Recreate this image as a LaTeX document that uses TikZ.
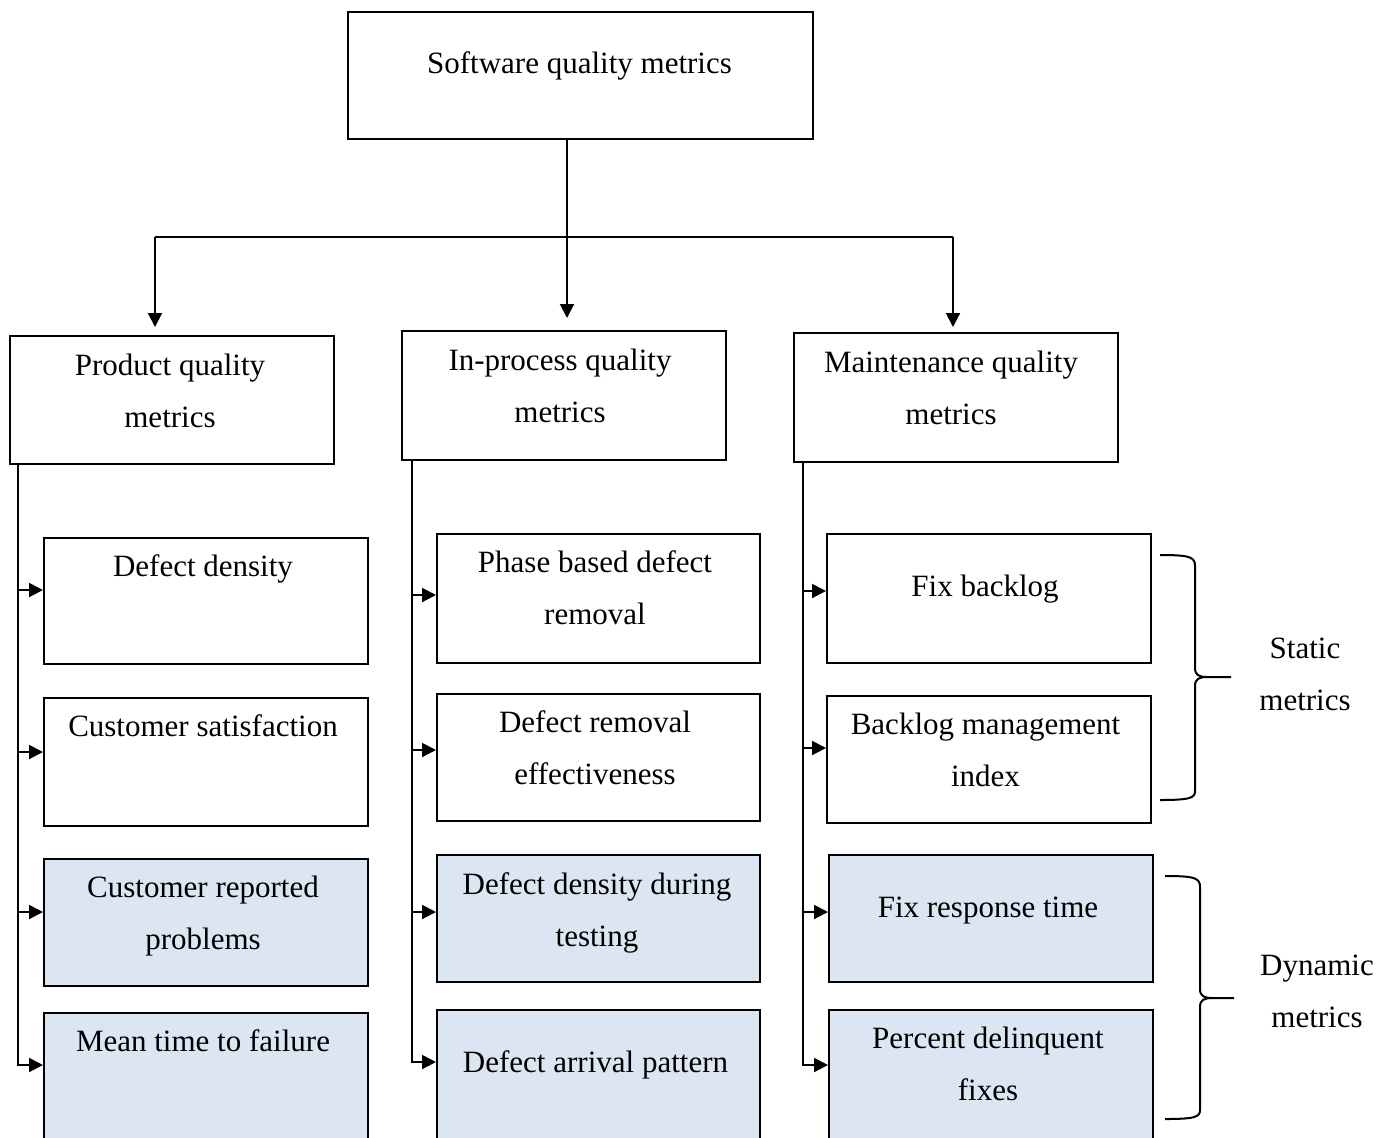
\documentclass[tikz,border=0pt]{standalone}
\usepackage{fontspec}
\setmainfont{Liberation Serif}
\usetikzlibrary{arrows.meta}
\definecolor{dynfill}{HTML}{DCE6F2}
\begin{document}
\begin{tikzpicture}[x=0.5pt,y=-0.5pt,
  box/.style 2 args={draw, line width=0.9pt, anchor=north west, inner sep=0pt,
    minimum width=#1*0.5pt, minimum height=#2*0.5pt},
  dyn/.style={fill=dynfill},
  txt/.style={anchor=north, inner sep=0pt, align=center,
    font=\fontsize{15.5}{26.3}\selectfont},
  link/.style={line width=1pt},
  arr/.style={line width=1pt, -{Triangle[length=7pt,width=7pt]}},
]
\useasboundingbox (0,0) rectangle (1391,1137);
\clip (0,0) rectangle (1391,1137);

% root
\node[box={465}{127}] (root) at (347,11) {};
\node[txt] (root-t) at (579.5,36) {\strut Software quality metrics};

% three metric families
\node[box={324}{128}] (pq) at (9,335) {};
\node[box={324}{129}] (ip) at (401,330) {};
\node[box={324}{129}] (mq) at (793,332) {};
\node[txt] (pq-t) at (170,338) {\strut Product quality\\\strut metrics};
\node[txt] (ip-t) at (560,333) {\strut In-process quality\\\strut metrics};
\node[txt] (mq-t) at (951,335) {\strut Maintenance quality\\\strut metrics};

% product quality metrics
\node[box={324}{126}] (dd) at (43,537) {};
\node[box={324}{128}] (cs) at (43,697) {};
\node[box={324}{127},dyn] (crp) at (43,858) {};
\node[box={324}{140},dyn] (mttf) at (43,1012) {};
\node[txt] (dd-t) at (203,539) {\strut Defect density};
\node[txt] (cs-t) at (203,699) {\strut Customer satisfaction};
\node[txt] (crp-t) at (203,860) {\strut Customer reported\\\strut problems};
\node[txt] (mttf-t) at (203,1014) {\strut Mean time to failure};

% in-process quality metrics
\node[box={323}{129}] (pb) at (436,533) {};
\node[box={323}{127}] (dre) at (436,693) {};
\node[box={323}{127},dyn] (ddt) at (436,854) {};
\node[box={323}{140},dyn] (dap) at (436,1009) {};
\node[txt] (pb-t) at (595,535) {\strut Phase based defect\\\strut removal};
\node[txt] (dre-t) at (595,695) {\strut Defect removal\\\strut effectiveness};
\node[txt] (ddt-t) at (597,857) {\strut Defect density during\\\strut testing};
\node[txt] (dap-t) at (595.5,1035) {\strut Defect arrival pattern};

% maintenance quality metrics
\node[box={324}{129}] (fb) at (826,533) {};
\node[box={324}{127}] (bmi) at (826,695) {};
\node[box={324}{127},dyn] (frt) at (828,854) {};
\node[box={324}{140},dyn] (pdf) at (828,1009) {};
\node[txt] (fb-t) at (985,559) {\strut Fix backlog};
\node[txt] (bmi-t) at (985.5,697) {\strut Backlog management\\\strut index};
\node[txt] (frt-t) at (988,880) {\strut Fix response time};
\node[txt] (pdf-t) at (988,1011) {\strut Percent delinquent\\\strut fixes};

% grouping labels
\node[txt] (st-t) at (1305,621) {\strut Static\\\strut metrics};
\node[txt] (dy-t) at (1317,938) {\strut Dynamic\\\strut metrics};

% root to families
\coordinate (split) at (567,237);
\coordinate (bP) at (155,237);
\coordinate (bM) at (953,237);
\draw[link] (root.south -| split) -- (split);
\draw[link] (bP) -- (bM);
\draw[arr, shorten >=4pt] (bP) -- (bP |- pq.north);
\draw[arr, shorten >=6pt] (split) -- (split |- ip.north);
\draw[arr, shorten >=2.5pt] (bM) -- (bM |- mq.north);

% trunks
\coordinate (tP) at (18,463);
\coordinate (tI) at (412,459);
\coordinate (tM) at (803,461);

% entry points on the left sides of the metric boxes
\coordinate (dd-in) at ([yshift=-26.5pt]dd.north west);
\coordinate (cs-in) at ([yshift=-27.5pt]cs.north west);
\coordinate (crp-in) at ([yshift=-27pt]crp.north west);
\coordinate (mttf-in) at ([yshift=-26.5pt]mttf.north west);
\coordinate (pb-in) at ([yshift=-31pt]pb.north west);
\coordinate (dre-in) at ([yshift=-28.5pt]dre.north west);
\coordinate (ddt-in) at ([yshift=-29pt]ddt.north west);
\coordinate (dap-in) at ([yshift=-26.5pt]dap.north west);
\coordinate (fb-in) at ([yshift=-29pt]fb.north west);
\coordinate (bmi-in) at ([yshift=-26.5pt]bmi.north west);
\coordinate (frt-in) at ([yshift=-29pt]frt.north west);
\coordinate (pdf-in) at ([yshift=-28pt]pdf.north west);

\draw[arr] (tP) |- (mttf-in);
\draw[arr] (tP |- dd-in) -- (dd-in);
\draw[arr] (tP |- cs-in) -- (cs-in);
\draw[arr] (tP |- crp-in) -- (crp-in);

\draw[arr] (tI) |- (dap-in);
\draw[arr] (tI |- pb-in) -- (pb-in);
\draw[arr] (tI |- dre-in) -- (dre-in);
\draw[arr] (tI |- ddt-in) -- (ddt-in);

\draw[arr] (tM) |- (pdf-in);
\draw[arr] (tM |- fb-in) -- (fb-in);
\draw[arr] (tM |- bmi-in) -- (bmi-in);
\draw[arr] (tM |- frt-in) -- (frt-in);

% braces
\draw[link] (1160,555) .. controls (1190,555) and (1195,557) .. (1195,566)
  -- (1195,668) .. controls (1195,675) and (1199,677) .. (1207,677) -- (1231,677);
\draw[link] (1207,677) .. controls (1199,677) and (1195,679) .. (1195,686)
  -- (1195,791) .. controls (1195,798) and (1190,800) .. (1160,800);
\draw[link] (1165,876) .. controls (1195,876) and (1200,878) .. (1200,887)
  -- (1200,989) .. controls (1200,996) and (1204,998) .. (1212,998) -- (1234,998);
\draw[link] (1212,998) .. controls (1204,998) and (1200,1000) .. (1200,1007)
  -- (1200,1110) .. controls (1200,1117) and (1195,1119) .. (1165,1119);
\end{tikzpicture}
\end{document}
